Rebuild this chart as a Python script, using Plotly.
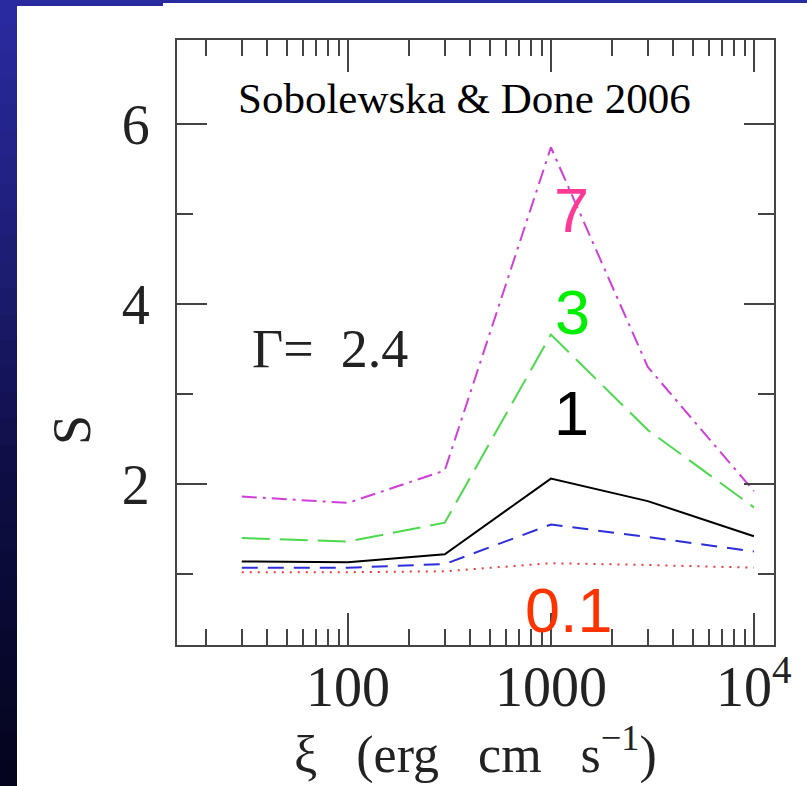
import plotly.graph_objects as go

# ---------------- data ----------------
xi = [30, 100, 300, 1000, 3000, 10000]
S_7 = [1.86, 1.79, 2.15, 5.74, 3.30, 1.92]
S_3 = [1.40, 1.36, 1.57, 3.66, 2.60, 1.74]
S_1 = [1.14, 1.13, 1.22, 2.06, 1.81, 1.42]
S_03 = [1.07, 1.07, 1.11, 1.55, 1.41, 1.25]
S_01 = [1.02, 1.02, 1.03, 1.12, 1.10, 1.07]

x_tickvals = [100, 1000, 10000]
x_ticktext = ["100", "1000", "10<sup>4</sup>"]
x_minor = [20, 30, 40, 50, 60, 70, 80, 90,
           200, 300, 400, 500, 600, 700, 800, 900,
           2000, 3000, 4000, 5000, 6000, 7000, 8000, 9000]
y_tickvals = [2, 4, 6]
y_ticktext = ["2", "4", "6"]
y_minor = [1, 3, 5]

W, H = 807, 786
ML, MR, MT, MB = 177, 33, 40, 141
PW = W - ML - MR
PH = H - MT - MB


def xp(px):
    return (px - ML) / PW


def yp(py):
    return (H - MB - py) / PH


fig = go.Figure()

series = [
    (S_01, "#e8383c", "2px,6px", "0.1"),
    (S_03, "#2e2ed8", "16px,10px", "0.3"),
    (S_1, "#000000", "solid", "1"),
    (S_3, "#4cd94c", "28px,10px", "3"),
    (S_7, "#cf3fd8", "15px,6px,3px,6px", "7"),
]
for ys, col, dash, name in series:
    fig.add_trace(go.Scatter(x=xi, y=ys, mode="lines", name=name,
                             line=dict(color=col, width=2, dash=dash),
                             showlegend=False))

serif = "Liberation Serif"
sans = "Liberation Sans"

annotations = [
    dict(x=2.576, y=6.28, text="Sobolewska & Done 2006",
         font=dict(family=serif, size=43, color="black")),
    dict(x=1.91, y=3.50, text="\u0393=\u00a0\u00a02.4",
         font=dict(family=serif, size=54, color="#222")),
    dict(x=3.10, y=5.04, text="7", font=dict(family=sans, size=63, color="#ff3a96")),
    dict(x=3.105, y=3.91, text="3", font=dict(family=sans, size=63, color="#00ee00")),
    dict(x=3.10, y=2.79, text="1", font=dict(family=sans, size=63, color="#000000")),
    dict(x=3.09, y=0.60, text="0.1", font=dict(family=sans, size=63, color="#ff3300")),
]
for a in annotations:
    a.update(xref="x", yref="y", showarrow=False, xanchor="center", yanchor="middle")
    fig.add_annotation(**a)

# y-axis title placed where the reference shows it
fig.add_annotation(xref="paper", yref="y", x=xp(72), y=2.6, text="S", textangle=-90,
                   showarrow=False, xanchor="center", yanchor="middle",
                   font=dict(family=serif, size=54, color="#222"))

# slide background bands
shapes = []
stops = [(0.0, (42, 42, 160)), (0.3, (30, 30, 120)), (0.6, (14, 14, 70)), (1.0, (4, 4, 30))]


def col_at(t):
    for (t0, c0), (t1, c1) in zip(stops[:-1], stops[1:]):
        if t0 <= t <= t1:
            f = (t - t0) / (t1 - t0)
            return "rgb(%d,%d,%d)" % tuple(round(c0[i] + f * (c1[i] - c0[i])) for i in range(3))
    return "rgb(4,4,30)"


N = 30
for i in range(N):
    y0 = i * H / N
    y1 = (i + 1) * H / N + 1
    shapes.append(dict(type="rect", xref="paper", yref="paper", layer="below",
                       x0=xp(0), x1=xp(17), y0=yp(y1), y1=yp(y0),
                       fillcolor=col_at(i / (N - 1)), line=dict(width=0)))
shapes.append(dict(type="rect", xref="paper", yref="paper", layer="below",
                   x0=xp(0), x1=xp(163), y0=yp(6), y1=yp(0),
                   fillcolor="rgb(42,42,160)", line=dict(width=0)))
shapes.append(dict(type="rect", xref="paper", yref="paper", layer="below",
                   x0=xp(163), x1=xp(W), y0=yp(3), y1=yp(0),
                   fillcolor="rgb(42,42,160)", line=dict(width=0)))

fig.update_layout(
    width=W, height=H,
    margin=dict(l=ML, r=MR, t=MT, b=MB),
    paper_bgcolor="white", plot_bgcolor="white",
    shapes=shapes,
    showlegend=False,
)

axis_common = dict(showline=True, linecolor="#444", linewidth=2, mirror="ticks",
                   ticks="inside", tickcolor="#444", tickwidth=2,
                   showgrid=False, zeroline=False)

fig.update_xaxes(type="log", range=[1.158, 4.099],
                 tickmode="array", tickvals=x_tickvals, ticktext=x_ticktext,
                 ticklen=32, ticklabelstandoff=-8,
                 tickfont=dict(family=serif, size=56, color="#222"),
                 minor=dict(ticks="inside", ticklen=16, tickcolor="#444", tickwidth=2,
                            tickmode="array", tickvals=x_minor, showgrid=False),
                 title=dict(text="\u03be\u00a0\u00a0\u00a0(erg\u00a0\u00a0\u00a0cm\u00a0\u00a0\u00a0s<sup>\u22121</sup>)",
                            font=dict(family=serif, size=52, color="#222"), standoff=10),
                 **axis_common)
fig.update_yaxes(range=[0.211, 6.933],
                 tickmode="array", tickvals=y_tickvals, ticktext=y_ticktext,
                 ticklen=30, ticklabelstandoff=14,
                 tickfont=dict(family=serif, size=56, color="#222"),
                 minor=dict(ticks="inside", ticklen=16, tickcolor="#444", tickwidth=2,
                            tickmode="array", tickvals=y_minor, showgrid=False),
                 **axis_common)

fig.write_html("out.html")
